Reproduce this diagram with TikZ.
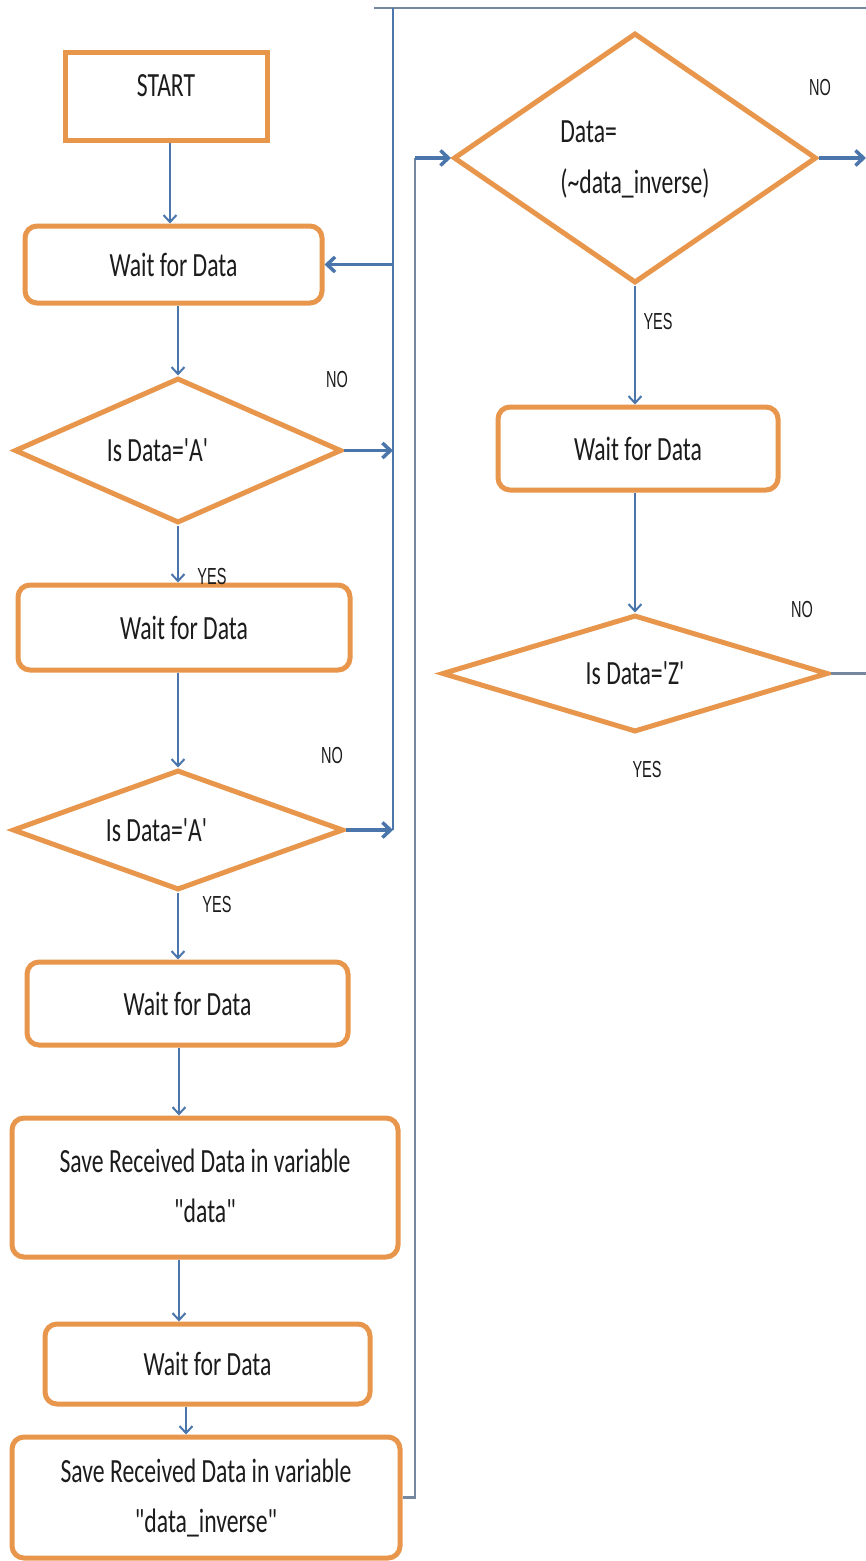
\documentclass[tikz,border=0pt]{standalone}
\usepackage{fontspec}
\usepackage{graphicx}
\setmainfont{Carlito}
\newfontfamily\labelfont{Liberation Sans}
\usetikzlibrary{shapes.geometric,arrows.meta}

\definecolor{boxorange}{RGB}{232,150,76}
\definecolor{linkblue}{RGB}{74,118,172}
\definecolor{linkgray}{RGB}{118,136,160}
\definecolor{inktext}{RGB}{28,28,28}

% text of the flowchart is set tall and narrow
\newcommand\tallbox[1]{\scalebox{1}[1.43]{#1}}
\newcommand\twolines[2]{\scalebox{1}[1.43]{\begin{tabular}{@{}c@{}}#1\\#2\end{tabular}}}
\newcommand\twoleft[2]{\scalebox{1}[1.43]{\begin{tabular}{@{}l@{}}#1\\#2\end{tabular}}}
\newcommand\flowlbl[1]{\scalebox{1}[1.6]{\labelfont\fontsize{14.5}{16}\selectfont #1}}
\newcommand\sq{\textquotesingle}
\newcommand\dq{\textquotedbl}

\tikzset{
  proc/.style={draw=boxorange, line width=5pt, rounded corners=12pt, fill=white,
    text=inktext, font=\fontsize{23.7}{35}\selectfont, inner sep=0pt},
  startbox/.style={proc, sharp corners},
  decision/.style={diamond, aspect=2, draw=boxorange, line width=5pt, fill=white,
    text=inktext, font=\fontsize{23.7}{35}\selectfont, inner sep=0pt},
  link/.style={draw=linkblue, line width=2pt, -{Straight Barb[length=7pt,width=13pt]}},
  heavylink/.style={draw=linkblue, line width=3.5pt, -{Straight Barb[length=8pt,width=15pt]}},
  trunk/.style={draw=linkblue, line width=2.5pt},
  flowtag/.style={text=inktext, inner sep=0pt},
}

\begin{document}
\begin{tikzpicture}[x=1pt, y=-1pt]
\useasboundingbox (0,0) rectangle (866,1561);
\fill[white] (0,0) rectangle (866,1561);

% ---- left column ----
\node[startbox, minimum width=202pt, minimum height=88pt, text height=22pt, text depth=22pt]
  (start) at (166,96) {\tallbox{START}};
\node[proc, minimum width=297pt, minimum height=77pt] (wait1) at (173.5,264.5) {\tallbox{Wait for Data}};
\node[decision, minimum width=327pt, minimum height=145pt] (d1) at (178,450.5)
  {\hspace*{-41pt}\tallbox{Is Data=\sq A\sq}};
\node[proc, minimum width=332pt, minimum height=85pt] (wait2) at (184,627.5) {\tallbox{Wait for Data}};
\node[decision, minimum width=331pt, minimum height=120pt] (d2) at (178,830)
  {\hspace*{-43pt}\tallbox{Is Data=\sq A\sq}};
\node[proc, minimum width=321pt, minimum height=83pt] (wait3) at (187.5,1003.5) {\tallbox{Wait for Data}};
\node[proc, minimum width=386pt, minimum height=139pt] (save1) at (205,1187.5)
  {\twolines{Save Received Data in variable}{\dq data\dq}};
\node[proc, minimum width=325pt, minimum height=80pt] (wait4) at (207.5,1364) {\tallbox{Wait for Data}};
\node[proc, minimum width=388pt, minimum height=121pt] (save2) at (206,1497.5)
  {\raisebox{-5pt}{\twolines{Save Received Data in variable}{\dq data\_inverse\dq}}};

% ---- right column ----
\node[decision, minimum width=363pt, minimum height=250pt] (d3) at (635,158)
  {\twoleft{Data=}{(\textasciitilde data\_inverse)}};
\node[proc, minimum width=280pt, minimum height=83pt] (wait5) at (638,448.5) {\tallbox{Wait for Data}};
\node[decision, minimum width=386pt, minimum height=117pt] (d4) at (635,673.5)
  {\raisebox{-6pt}{\tallbox{Is Data=\sq Z\sq}}};

% ---- branch labels ----
\node[flowtag] (no1) at (337,380) {\flowlbl{NO}};
\node[flowtag] (yes1) at (212,577) {\flowlbl{YES}};
\node[flowtag] (no2) at (332,756) {\flowlbl{NO}};
\node[flowtag] (yes2) at (217,905) {\flowlbl{YES}};
\node[flowtag] (no3) at (820,88) {\flowlbl{NO}};
\node[flowtag] (yes3) at (658,322) {\flowlbl{YES}};
\node[flowtag] (no4) at (802,610) {\flowlbl{NO}};
\node[flowtag] (yes4) at (647,770) {\flowlbl{YES}};

% ---- guide coordinates ----
\coordinate (colS) at (170,0);
\coordinate (colA) at (178,0);
\coordinate (colB) at (179,0);
\coordinate (colC) at (186,0);
\coordinate (trunkTop) at (393,8);
\coordinate (topL) at (374,8);
\coordinate (topR) at (866,8);
\coordinate (riser) at (415,0);

% ---- straight-down links ----
\draw[link] (start.south -| colS) -- (wait1.north -| colS);
\draw[link] (wait1.south -| colA) -- (d1.north);
\draw[link] (d1.south) -- (wait2.north -| colA);
\draw[link] (wait2.south -| colA) -- (d2.north);
\draw[link] (d2.south) -- (wait3.north -| colA);
\draw[link] (wait3.south -| colB) -- (save1.north -| colB);
\draw[link] (save1.south -| colB) -- (wait4.north -| colB);
\draw[link] (wait4.south -| colC) -- (save2.north -| colC);
\draw[link] (d3.south) -- (wait5.north -| d3.south);
\draw[link] (wait5.south -| d4.north) -- (d4.north);

% ---- loop back to the first wait ----
\draw[linkgray, line width=2pt] (topR) -- (topL);
\draw[trunk] (trunkTop) -- (trunkTop |- d2.east);
\draw[heavylink] (trunkTop |- wait1.east) -- (wait1.east);
\draw[heavylink] (d1.east) -- (d1.east -| trunkTop);
\draw[heavylink] (d2.east) -- (d2.east -| trunkTop);

% ---- exits on the right ----
\draw[heavylink] (d3.east) -- (d3.east -| topR);
\draw[linkgray, line width=2.5pt] (d4.east) -- (d4.east -| topR);

% ---- from the second save up to the check ----
\draw[linkgray, line width=2.2pt] (save2.east) -- (save2.east -| riser) -- (riser |- d3.west);
\draw[heavylink] (riser |- d3.west) -- (d3.west);
\end{tikzpicture}
\end{document}
